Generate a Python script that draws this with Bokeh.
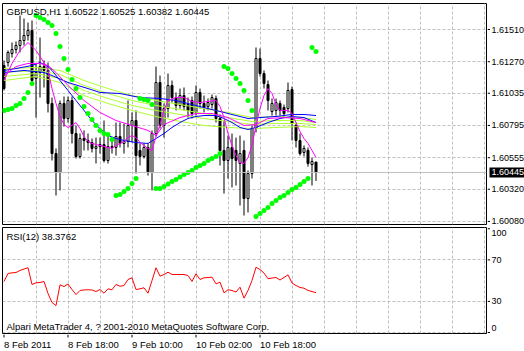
from bokeh.plotting import figure
from bokeh.models import (Range1d, FixedTicker, Label, Span, ColumnDataSource, Grid)
from bokeh.layouts import column, row
from bokeh.embed import file_html
from bokeh.resources import INLINE
from bokeh.core.properties import value

symbol = "GBPUSD,H1"
rsi_name = "RSI(12)"
copyright_text = "Alpari MetaTrader 4, ? 2001-2010 MetaQuotes Software Corp."
time_tick_bars = [0, 16, 32, 48, 64]
time_labels = ["8 Feb 2011", "8 Feb 18:00", "9 Feb 10:00", "10 Feb 02:00", "10 Feb 18:00"]
price_ticks = [1.61510, 1.61270, 1.61035, 1.60795, 1.60555, 1.60320, 1.60080]
rsi_ticks = [0, 30, 70, 100]
rsi_grid = [0, 30, 70]

opens = [1.61242, 1.61264, 1.61331, 1.61361, 1.61391, 1.61428, 1.61465, 1.61503, 1.61145, 1.61190,
         1.61234, 1.61205, 1.60959, 1.60586, 1.60445, 1.60959, 1.60847, 1.60981, 1.60735, 1.60564,
         1.60698, 1.60683, 1.60668, 1.60624, 1.60638, 1.60653, 1.60534, 1.60638, 1.60631, 1.60713,
         1.60661, 1.60676, 1.60795, 1.60832, 1.60609, 1.60564, 1.60631, 1.60445, 1.60735, 1.61115,
         1.60795, 1.60921, 1.61093, 1.61003, 1.60944, 1.61018, 1.60951, 1.60981, 1.60892, 1.61041,
         1.60959, 1.60936, 1.60951, 1.60996, 1.60847, 1.60609, 1.60534, 1.60631, 1.60609, 1.60512,
         1.60609, 1.60251, 1.60437, 1.60772, 1.61294, 1.61182, 1.61100, 1.60899, 1.60907, 1.60959,
         1.60929, 1.60921, 1.61063, 1.60795, 1.60683, 1.60594, 1.60609, 1.60504, 1.60522]
highs = [1.61279, 1.61354, 1.61413, 1.61421, 1.61614, 1.61592, 1.61562, 1.61577, 1.61257, 1.61450,
         1.61279, 1.61264, 1.61003, 1.60624, 1.60981, 1.61011, 1.61011, 1.61011, 1.60795, 1.60735,
         1.60758, 1.60735, 1.60698, 1.60705, 1.60705, 1.60832, 1.60735, 1.60683, 1.60817, 1.60817,
         1.60810, 1.60981, 1.60892, 1.60907, 1.60661, 1.60661, 1.60661, 1.60758, 1.61234, 1.61167,
         1.60959, 1.61182, 1.61130, 1.61041, 1.61070, 1.61078, 1.61003, 1.61011, 1.61093, 1.61070,
         1.61018, 1.60996, 1.61026, 1.61018, 1.60877, 1.60832, 1.60720, 1.60735, 1.60705, 1.60720,
         1.60683, 1.60460, 1.60795, 1.61376, 1.61368, 1.61205, 1.61130, 1.60996, 1.60996, 1.60981,
         1.60951, 1.61115, 1.61085, 1.60817, 1.60735, 1.60646, 1.60631, 1.60556, 1.60525]
lows = [1.61056, 1.61234, 1.61301, 1.61331, 1.61339, 1.61391, 1.61428, 1.61108, 1.60854, 1.61003,
        1.61078, 1.60892, 1.60534, 1.60273, 1.60311, 1.60787, 1.60817, 1.60661, 1.60549, 1.60549,
        1.60609, 1.60609, 1.60594, 1.60512, 1.60586, 1.60519, 1.60512, 1.60586, 1.60571, 1.60631,
        1.60586, 1.60631, 1.60668, 1.60437, 1.60497, 1.60549, 1.60422, 1.60311, 1.60713, 1.60772,
        1.60705, 1.60854, 1.60966, 1.60907, 1.60921, 1.60907, 1.60854, 1.60847, 1.60869, 1.60921,
        1.60892, 1.60907, 1.60921, 1.60817, 1.60497, 1.60288, 1.60400, 1.60333, 1.60348, 1.60199,
        1.60124, 1.60147, 1.60400, 1.60743, 1.61160, 1.61070, 1.60907, 1.60869, 1.60869, 1.60869,
        1.60854, 1.60892, 1.60683, 1.60631, 1.60571, 1.60564, 1.60489, 1.60348, 1.60382]
closes = [1.61070, 1.61339, 1.61361, 1.61391, 1.61428, 1.61465, 1.61503, 1.61130, 1.61190, 1.61234,
          1.61205, 1.60959, 1.60586, 1.60445, 1.60959, 1.60847, 1.60981, 1.60735, 1.60564, 1.60698,
          1.60683, 1.60668, 1.60624, 1.60638, 1.60653, 1.60534, 1.60638, 1.60631, 1.60713, 1.60661,
          1.60676, 1.60795, 1.60832, 1.60571, 1.60564, 1.60631, 1.60445, 1.60735, 1.61115, 1.60795,
          1.60921, 1.61093, 1.61003, 1.60944, 1.61018, 1.60936, 1.60907, 1.60884, 1.61041, 1.60959,
          1.60929, 1.60966, 1.61003, 1.60847, 1.60609, 1.60534, 1.60631, 1.60549, 1.60534, 1.60586,
          1.60251, 1.60437, 1.60772, 1.61294, 1.61182, 1.61108, 1.60981, 1.60959, 1.60966, 1.60907,
          1.60884, 1.61056, 1.60810, 1.60683, 1.60586, 1.60624, 1.60512, 1.60527, 1.60445]

sar = [1.60907, 1.60914, 1.60921, 1.60944, 1.60959, 1.60996, 1.61041, 1.61108, 1.61614, 1.61599,
       1.61585, 1.61562, 1.61540, 1.61480, 1.61383, 1.61294, 1.61212, 1.61138, 1.61070, 1.61003,
       1.60936, 1.60884, 1.60840, 1.60795, 1.60758, 1.60735, 1.60728, 1.60691, 1.60273, 1.60281,
       1.60303, 1.60326, 1.60363, 1.60400, 1.60996, 1.60989, 1.60981, 1.60951, 1.60326, 1.60326,
       1.60340, 1.60359, 1.60378, 1.60393, 1.60411, 1.60430, 1.60445, 1.60460, 1.60482, 1.60497,
       1.60512, 1.60534, 1.60549, 1.60564, 1.60586, 1.61234, 1.61219, 1.61182, 1.61145, 1.61108,
       1.61056, 1.60981, 1.60907, 1.60117, 1.60139, 1.60162, 1.60184, 1.60214, 1.60236, 1.60258,
       1.60273, 1.60296, 1.60318, 1.60333, 1.60355, 1.60378, 1.60400, 1.61376, 1.61346]

rsi = [49.2, 56.9, 57.5, 57.8, 59.8, 61.2, 62.4, 46.3, 47.9, 48.2,
       49.2, 37.6, 28.9, 26.0, 46.0, 44.3, 46.7, 41.4, 36.6, 40.5,
       41.0, 41.2, 41.0, 39.5, 41.4, 37.9, 42.1, 41.2, 46.3, 44.6,
       45.3, 51.1, 52.7, 41.4, 42.1, 43.1, 37.9, 50.1, 62.4, 54.3,
       55.9, 58.1, 55.9, 55.9, 55.9, 55.9, 54.9, 49.2, 56.6, 51.1,
       52.7, 53.0, 53.3, 46.9, 48.5, 38.3, 41.2, 40.5, 39.0, 43.7,
       33.1, 40.5, 50.1, 62.9, 60.7, 57.3, 51.8, 52.5, 53.0, 50.6,
       53.0, 55.6, 47.7, 45.3, 43.4, 42.7, 40.5, 39.5, 38.3762]

magenta_fast_bars = [0, 2, 4, 6, 8, 10, 11, 12, 13, 14, 15, 16, 17, 18, 19, 20, 21, 22, 24, 26, 27, 28, 30,
                     31, 32, 33, 34, 36, 37, 38, 39, 40, 41, 43, 45, 47, 49, 51, 53, 54, 55, 56, 57, 58,
                     59, 60, 61, 62, 63, 64, 65, 66, 67, 68, 69, 71, 72, 73, 74, 75, 76, 77, 78]
magenta_fast = [1.61130, 1.61257, 1.61354, 1.61413, 1.61354, 1.61264, 1.61205, 1.61070, 1.60959, 1.60862,
                1.60802, 1.60780, 1.60795, 1.60817, 1.60772, 1.60713, 1.60676, 1.60661, 1.60646, 1.60631,
                1.60624, 1.60646, 1.60676, 1.60705, 1.60720, 1.60705, 1.60668, 1.60624, 1.60609, 1.60713,
                1.60802, 1.60907, 1.60981, 1.61003, 1.61003, 1.60974, 1.60966, 1.60974, 1.60981, 1.60936,
                1.60854, 1.60735, 1.60646, 1.60571, 1.60519, 1.60512, 1.60556, 1.60646, 1.60795, 1.60921,
                1.61018, 1.61070, 1.61033, 1.60951, 1.60907, 1.60907, 1.60884, 1.60817, 1.60750, 1.60698,
                1.60661, 1.60609, 1.60556]
magenta_slow_bars = [0, 3, 6, 9, 11, 13, 16, 20, 24, 28, 32, 36, 38, 40, 44, 48, 52, 56, 60, 63, 66, 70, 74, 78]
magenta_slow = [1.61167, 1.61234, 1.61257, 1.61257, 1.61242, 1.61190, 1.61093, 1.60981, 1.60892, 1.60832,
                1.60795, 1.60758, 1.60720, 1.60802, 1.60854, 1.60884, 1.60884, 1.60854, 1.60795, 1.60802,
                1.60847, 1.60854, 1.60847, 1.60817]
blue_fast_bars = [0, 3, 7, 9, 11, 12, 14, 16, 18, 20, 22, 24, 26, 28, 30, 33, 36, 38, 40, 42, 44, 46, 48,
                  50, 53, 55, 57, 59, 61, 63, 66, 69, 72, 75, 78]
blue_fast = [1.61205, 1.61219, 1.61242, 1.61264, 1.61234, 1.61205, 1.61130, 1.61056, 1.60981, 1.60907,
             1.60832, 1.60772, 1.60720, 1.60698, 1.60683, 1.60668, 1.60661, 1.60698, 1.60735, 1.60780,
             1.60817, 1.60847, 1.60862, 1.60869, 1.60869, 1.60847, 1.60817, 1.60780, 1.60765, 1.60780,
             1.60817, 1.60847, 1.60862, 1.60854, 1.60817]
blue_slow_bars = [0, 5, 10, 12, 16, 21, 24, 29, 34, 39, 43, 47, 51, 55, 58, 61, 64, 68, 72, 75, 78]
blue_slow = [1.61190, 1.61205, 1.61190, 1.61167, 1.61115, 1.61070, 1.61041, 1.61033, 1.61003, 1.60996,
             1.60981, 1.60951, 1.60921, 1.60892, 1.60869, 1.60847, 1.60854, 1.60862, 1.60877, 1.60877,
             1.60869]
green_bars = [0, 8, 14, 20, 26, 32, 38, 44, 50, 56, 62, 68, 74, 78]
green_1 = [1.61219, 1.61227, 1.61205, 1.61130, 1.61070, 1.61018, 1.60981, 1.60951, 1.60921, 1.60892,
           1.60854, 1.60862, 1.60854, 1.60840]
green_2 = [1.61190, 1.61205, 1.61175, 1.61093, 1.61033, 1.60981, 1.60944, 1.60914, 1.60884, 1.60854,
           1.60825, 1.60832, 1.60832, 1.60817]
green_3 = [1.61160, 1.61182, 1.61145, 1.61056, 1.60996, 1.60944, 1.60907, 1.60877, 1.60847, 1.60825,
           1.60802, 1.60810, 1.60810, 1.60802]
green_4 = [1.61130, 1.61160, 1.61115, 1.61018, 1.60959, 1.60907, 1.60862, 1.60825, 1.60795, 1.60780,
           1.60772, 1.60780, 1.60787, 1.60780]

FONT = "Liberation Sans"
FS = "9.5px"
AFS = "9px"
GRID = "#C0C0C0"

bars = list(range(len(closes)))
x_rng = Range1d(-0.375, 120.625)
price_rng = Range1d(1.600573, 1.617037)
rsi_rng = Range1d(-0.96, 101.2)


def base(width, height, xr, yr, top, bottom, left, right, outline=True):
    f = figure(width=width, height=height, x_range=xr, y_range=yr, output_backend="svg",
               toolbar_location=None, x_axis_location=None, y_axis_location=None,
               min_border_left=left, min_border_right=right, min_border_top=top,
               min_border_bottom=bottom)
    f.background_fill_color = "white"
    f.border_fill_color = "white"
    f.outline_line_color = "black" if outline else None
    f.outline_line_width = 1
    f.grid.visible = False
    return f


def txt(fig, text, **kw):
    fig.add_layout(Label(text=text, text_font=FONT, text_font_size=FS, text_baseline="middle",
                         text_color="black", **kw))


def strip_text(fig, x, y, texts, size, color="black", align="left", y_offset=0):
    fig.text(x=x, y=y, text=texts, text_font=value(FONT), text_font_size=value(size),
             text_baseline="middle", text_align=align, text_color=color, y_offset=y_offset)


# ---------------- main price panel ----------------
p = base(487, 226, x_rng, price_rng, 3, 2, 2, 1)
p.add_layout(Grid(dimension=0, ticker=FixedTicker(ticks=list(range(8, 121, 8))),
                  grid_line_color=GRID, grid_line_dash="3 2"))
p.add_layout(Grid(dimension=1, ticker=FixedTicker(ticks=price_ticks),
                  grid_line_color=GRID, grid_line_dash="3 2"))
p.add_layout(Span(location=closes[-1], dimension="width", line_color=GRID, line_width=1))

up = [i for i in bars if closes[i] >= opens[i]]
dn = [i for i in bars if closes[i] < opens[i]]
src = ColumnDataSource(dict(x=bars, o=opens, h=highs, l=lows, c=closes))
p.segment(x0="x", y0="h", x1="x", y1="l", source=src, line_color="black", line_width=1)
p.vbar(x=up, top=[closes[i] for i in up], bottom=[opens[i] for i in up], width=0.5,
       fill_color="white", line_color="black", line_width=1)
p.vbar(x=dn, top=[opens[i] for i in dn], bottom=[closes[i] for i in dn], width=0.5,
       fill_color="black", line_color="black", line_width=1)

for gy in [green_1, green_2, green_3, green_4]:
    p.line(green_bars, gy, line_color="#ADFF2F", line_width=1)
p.line(blue_slow_bars, blue_slow, line_color="#0000FF", line_width=1)
p.line(blue_fast_bars, blue_fast, line_color="#0000FF", line_width=1)
p.line(magenta_slow_bars, magenta_slow, line_color="#FF00FF", line_width=1)
p.line(magenta_fast_bars, magenta_fast, line_color="#FF00FF", line_width=1)
p.scatter(bars, sar, marker="circle", size=5, fill_color="#00FF00", line_color=None)

head = f"{symbol} {opens[-1]:.5f} {highs[-1]:.5f} {lows[-1]:.5f} {closes[-1]:.5f}"
txt(p, head, x=4, y=213, x_units="screen", y_units="screen")

# price scale strip (right of main panel)
sa = base(37, 226, Range1d(0, 37), price_rng, 3, 2, 0, 0, outline=False)
sa.segment(x0=0, y0=price_ticks, x1=2.5, y1=price_ticks, line_color="black", line_width=1)
strip_text(sa, 4, price_ticks, [f"{t:.5f}" for t in price_ticks], AFS)
sa.rect(x=19.5, y=closes[-1], width=35, height=10, height_units="screen",
        fill_color="black", line_color=None)
strip_text(sa, 4, [closes[-1]], [f"{closes[-1]:.5f}"], AFS, color="white")

# ---------------- RSI panel ----------------
q = base(487, 108, x_rng, rsi_rng, 1, 1, 2, 1)
q.add_layout(Grid(dimension=0, ticker=FixedTicker(ticks=list(range(8, 121, 8))),
                  grid_line_color=GRID, grid_line_dash="3 2"))
q.add_layout(Grid(dimension=1, ticker=FixedTicker(ticks=rsi_grid),
                  grid_line_color=GRID, grid_line_dash="3 2"))
q.line(bars, rsi, line_color="#FF0000", line_width=1)
txt(q, f"{rsi_name} {rsi[-1]:.4f}", x=4, y=97, x_units="screen", y_units="screen")
txt(q, copyright_text, x=4, y=7, x_units="screen", y_units="screen")

sb = base(37, 108, Range1d(0, 37), rsi_rng, 1, 1, 0, 0, outline=False)
sb.segment(x0=0, y0=rsi_ticks, x1=2.5, y1=rsi_ticks, line_color="black", line_width=1)
strip_text(sb, 4, rsi_ticks, [str(v) for v in rsi_ticks], AFS, y_offset=[-5, 0, 0, 4])

# ---------------- time scale strip ----------------
tc = base(524, 17, x_rng, Range1d(0, 17), 0, 0, 2, 38, outline=False)
tc.segment(x0=time_tick_bars, y0=17, x1=time_tick_bars, y1=14, line_color="black", line_width=1)
strip_text(tc, time_tick_bars, 7, time_labels, FS)

layout = column(row(p, sa, spacing=0), row(q, sb, spacing=0), tc, spacing=0)
open("out.html", "w").write(file_html(layout, INLINE))
